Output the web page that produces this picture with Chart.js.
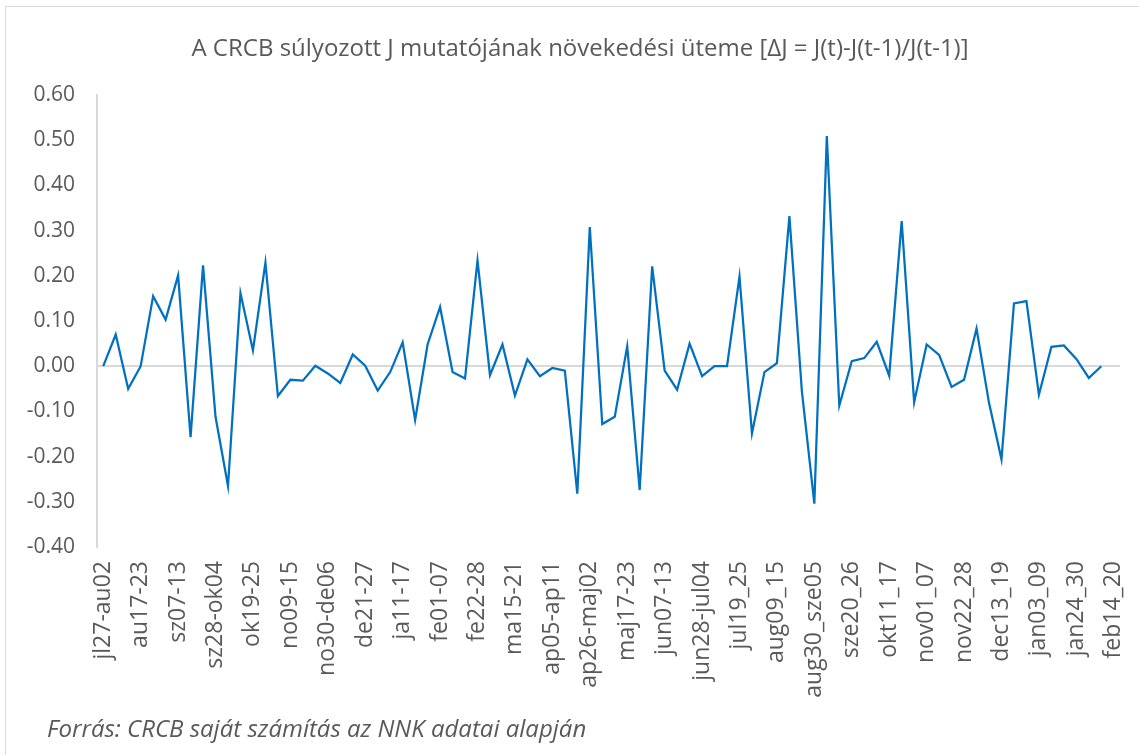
<!DOCTYPE html>
<html>
<head>
<meta charset="utf-8">
<script src="https://cdn.jsdelivr.net/npm/chart.js@4.4.0/dist/chart.umd.min.js"></script>
<style>
  body { margin: 0; background: #fff; }
  #wrap { position: relative; width: 1139px; height: 755px; font-family: "Open Sans", sans-serif; color: #595959; }
  #frame { position: absolute; left: 5px; top: 6px; right: 0; bottom: 0; border-left: 1px solid #d9d9d9; border-top: 1px solid #d9d9d9; }
  #title { position: absolute; left: 0; width: 1160px; top: 30px; text-align: center; font-size: 24px; line-height: 34px; }
  #source { position: absolute; left: 47px; top: 711px; font-style: italic; font-size: 24px; }
</style>
</head>
<body>
<div id="wrap">
  <div id="frame"></div>
  <div id="title">A CRCB súlyozott J mutatójának növekedési üteme [ΔJ = J(t)-J(t-1)/J(t-1)]</div>
  <canvas id="growthChart" width="1139" height="755"></canvas>
  <div id="source">Forrás: CRCB saját számítás az NNK adatai alapján</div>
</div>
<script>
// weekly periods (every 3rd one is shown on the axis)
const weeks = [
  "jl27-au02", "au03-09", "au10-16", "au17-23", "au24-30", "au31-sz06",
  "sz07-13", "sz14-20", "sz21-27", "sz28-ok04", "ok05-11", "ok12-18",
  "ok19-25", "ok26-no01", "no02-08", "no09-15", "no16-22", "no23-29",
  "no30-de06", "de07-13", "de14-20", "de21-27", "de28-ja03", "ja04-10",
  "ja11-17", "ja18-24", "ja25-31", "fe01-07", "fe08-14", "fe15-21",
  "fe22-28", "ma01-07", "ma08-14", "ma15-21", "ma22-28", "ma29-ap04",
  "ap05-ap11", "ap12-18", "ap19-25", "ap26-maj02", "maj03-09", "maj10-16",
  "maj17-23", "maj24-30", "maj31-jun06", "jun07-13", "jun14-20", "jun21-27",
  "jun28-jul04", "jul05_11", "jul12_18", "jul19_25", "jul26_aug01", "aug02_08",
  "aug09_15", "aug16_22", "aug23_29", "aug30_sze05", "sze06_12", "sze13_19",
  "sze20_26", "sze27_okt03", "okt04_10", "okt11_17", "okt18_24", "okt25_31",
  "nov01_07", "nov08_14", "nov15_21", "nov22_28", "nov29_dec05", "dec06_12",
  "dec13_19", "dec20_26", "dec27_jan02", "jan03_09", "jan10_16", "jan17_23",
  "jan24_30", "jan31_feb06", "feb07_13", "feb14_20"
];

// growth rate of the weighted J index
const growth = [
  0.000, 0.070, -0.050, 0.000, 0.155, 0.103, 0.201, -0.157, 0.223, -0.112,
  -0.265, 0.162, 0.035, 0.229, -0.066, -0.030, -0.032, 0.001, -0.016, -0.037,
  0.026, 0.001, -0.054, -0.013, 0.053, -0.119, 0.048, 0.131, -0.013, -0.027,
  0.234, -0.020, 0.048, -0.065, 0.015, -0.022, -0.004, -0.010, -0.282, 0.308,
  -0.128, -0.112, 0.044, -0.274, 0.221, -0.010, -0.052, 0.050, -0.022, 0.000,
  0.000, 0.198, -0.149, -0.013, 0.007, 0.332, -0.055, -0.304, 0.509, -0.087,
  0.011, 0.018, 0.054, -0.021, 0.321, -0.080, 0.048, 0.025, -0.046, -0.030,
  0.083, -0.081, -0.206, 0.139, 0.144, -0.063, 0.043, 0.046, 0.016, -0.026,
  0.000, null
];

const yMin = -0.4;
const yMax = 0.6;
const yStep = 0.1;

const textColor = "#595959";
const lineColor = "#d9d9d9";

let chartContainer = document.getElementById("growthChart");
let chart = new Chart(chartContainer, {
  type: "line",
  data: {
    labels: weeks,
    datasets: [{
      data: growth,
      borderColor: "#0070c0",
      backgroundColor: "#0070c0",
      borderWidth: 2.25,
      pointRadius: 0,
      tension: 0,
      fill: false
    }]
  },
  options: {
    responsive: false,
    animation: false,
    // title sits in the html above, so the plot starts at the 0.60 tick
    layout: { padding: { left: 0, right: 19, top: 95, bottom: 48 } },
    plugins: {
      legend: { display: false },
      tooltip: { enabled: false },
      title: { display: false }
    },
    scales: {
      x: {
        offset: true,
        grid: { display: false, drawTicks: false },
        border: { display: false },
        ticks: {
          autoSkip: false,
          minRotation: 90,
          maxRotation: 90,
          padding: 14,
          color: textColor,
          font: { family: "Open Sans", size: 23 },
          callback: function (value, index) {
            return index % 3 === 0 ? this.getLabelForValue(value) : "";
          }
        },
        // fixed height, and no extra side padding for the rotated end labels
        afterFit: function (scale) {
          scale.height = 160;
          scale.paddingLeft = 0;
          scale.paddingRight = 0;
        }
      },
      y: {
        min: yMin,
        max: yMax,
        border: { display: true, color: lineColor, width: 2 },
        grid: {
          drawTicks: false,
          // only the zero line is drawn, like the category axis in the original
          color: (ctx) => Math.abs(ctx.tick.value) < 1e-9 ? lineColor : "rgba(0,0,0,0)",
          lineWidth: 2
        },
        ticks: {
          stepSize: yStep,
          padding: 22,
          color: textColor,
          font: { family: "Open Sans", size: 21 },
          callback: (v) => v.toFixed(2)
        },
        afterFit: function (scale) { scale.width = 97; }
      }
    }
  }
});
</script>
</body>
</html>
